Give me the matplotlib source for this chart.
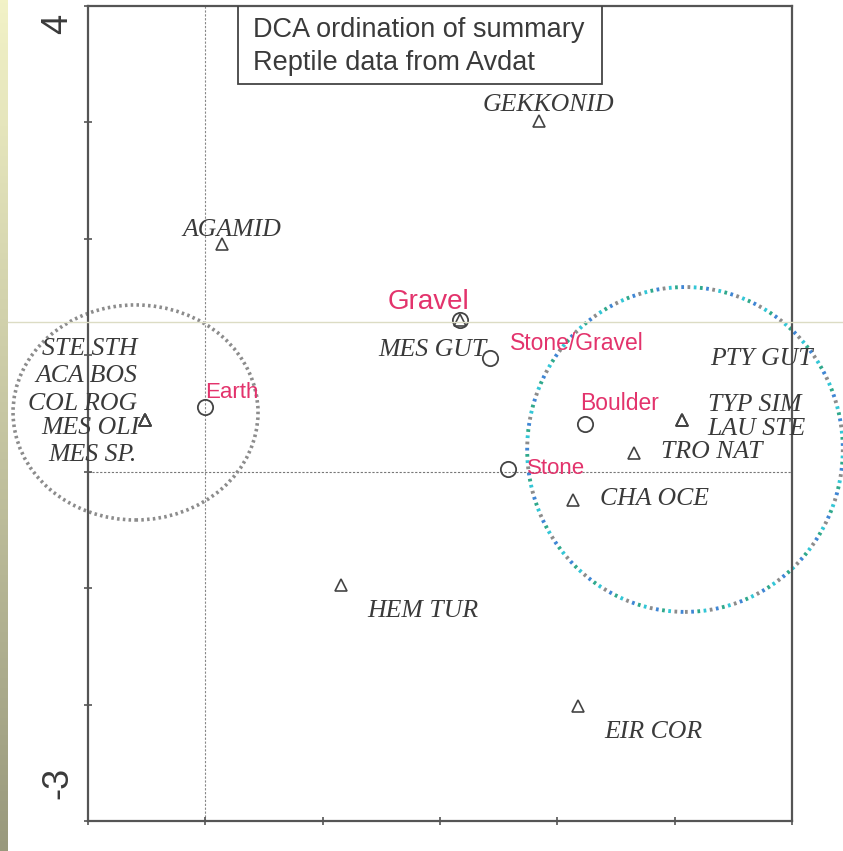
import numpy as np
import matplotlib
matplotlib.use("Agg")
import matplotlib.pyplot as plt
from matplotlib.patches import Ellipse, Rectangle
from matplotlib.lines import Line2D

# species scores (triangles)
species = ["GEKKONID", "AGAMID", "MES GUT",
           "STE STH", "ACA BOS", "COL ROG", "MES OLI", "MES SP.",
           "PTY GUT", "TYP SIM", "LAU STE",
           "TRO NAT", "CHA OCE", "HEM TUR", "EIR COR"]
species_x = [2.84, 0.14, 2.17,
             -0.51, -0.51, -0.51, -0.51, -0.51,
             4.06, 4.06, 4.06,
             3.65, 3.13, 1.16, 3.18]
species_y = [3.01, 1.96, 1.30,
             0.44, 0.44, 0.44, 0.44, 0.44,
             0.44, 0.44, 0.44,
             0.16, -0.24, -0.97, -2.01]

# substrate scores (circles)
sites = ["Gravel", "Stone/Gravel", "Earth", "Boulder", "Stone"]
sites_x = [2.17, 2.43, 0.00, 3.24, 2.58]
sites_y = [1.30, 0.98, 0.56, 0.41, 0.02]

# label placement, offsets in pixels from the point
species_off = {
    "GEKKONID": (10, 16, "center"), "AGAMID": (10, 14, "center"),
    "MES GUT": (27, -30, "right"),
    "STE STH": (-8, 71, "right"), "ACA BOS": (-8, 44, "right"),
    "COL ROG": (-8, 16, "right"), "MES OLI": (-6, -8, "right"),
    "MES SP.": (-9, -35, "right"),
    "PTY GUT": (28, 61, "left"), "TYP SIM": (26, 15, "left"),
    "LAU STE": (26, -9, "left"),
    "TRO NAT": (27, 1, "left"), "CHA OCE": (27, 1, "left"),
    "HEM TUR": (26, -26, "left"), "EIR COR": (26, -26, "left"),
}
sites_off = {
    "Gravel": (-72, 18, 20), "Stone/Gravel": (20, 14, 16.5),
    "Earth": (0, 14, 16), "Boulder": (-5, 20, 16.5), "Stone": (19, 1, 16),
}

ink = "#3a3a3a"
pink = "#e3336c"

fig = plt.figure(figsize=(8.43, 8.51), dpi=100)
fig.patch.set_facecolor("white")

# slide edge gradient on the left
strip = fig.add_axes([0, 0, 8 / 843, 1])
grad = np.linspace(0, 1, 256)[:, None]
top_c = np.array([0.95, 0.95, 0.78])
bot_c = np.array([0.60, 0.60, 0.49])
img = (1 - grad)[..., None] * top_c + grad[..., None] * bot_c
strip.imshow(img, aspect="auto", extent=[0, 1, 0, 1])
strip.set_axis_off()

ax = fig.add_axes([88 / 843, 30 / 851, 704 / 843, 815 / 851])
ax.set_xlim(-1, 5)
ax.set_ylim(-3, 4)

for s in ax.spines.values():
    s.set_color("#555555")
    s.set_linewidth(1.6)
ax.set_xticks(np.arange(-1, 6))
ax.set_yticks(np.arange(-3, 5))
ax.tick_params(direction="inout", length=6, width=1.2, color="#555555",
               labelleft=False, labelbottom=False)

ax.text(-1.26, 3.85, "4", rotation=90, ha="center", va="center",
        fontsize=26, family="Liberation Sans", color=ink)
ax.text(-1.26, -2.67, "-3", rotation=90, ha="center", va="center",
        fontsize=26, family="Liberation Sans", color=ink)

ax.axvline(0, color="#888888", lw=0.8, ls=(0, (2, 1.5)), zorder=1)
ax.axhline(0, color="#777777", lw=0.8, ls=(0, (2, 1.5)), zorder=1)

# title box
ax.add_patch(Rectangle((0.278, 3.33), 3.103, 0.68, fill=False,
                       ec="#444444", lw=1.3, zorder=3))
ax.text(0.405, 3.79, "DCA ordination of summary", fontsize=19.5,
        family="Liberation Sans", color=ink, va="center")
ax.text(0.405, 3.51, "Reptile data from Avdat", fontsize=19.5,
        family="Liberation Sans", color=ink, va="center")

ax.plot(species_x, species_y, ls="none", marker="^", ms=9, mfc="none",
        mec="#444444", mew=1.2, zorder=4)
ax.plot(sites_x, sites_y, ls="none", marker="o", ms=11, mfc="none",
        mec="#444444", mew=1.3, zorder=4)

for name, x, y in zip(species, species_x, species_y):
    dx, dy, ha = species_off[name]
    ax.annotate(name, (x, y), xytext=(dx, dy), textcoords="offset pixels",
                ha=ha, va="center", fontsize=18.5, family="Liberation Serif",
                style="italic", color=ink, zorder=5)

for name, x, y in zip(sites, sites_x, sites_y):
    dx, dy, fs = sites_off[name]
    ax.annotate(name, (x, y), xytext=(dx, dy), textcoords="offset pixels",
                ha="left", va="center", fontsize=fs,
                family="Liberation Sans", color=pink, zorder=5)

# grouping ellipses
ax.add_patch(Ellipse((-0.595, 0.509), 2.088, 1.847, fill=False,
                     ec="#8c8c8c", lw=2.6, ls=(0, (0.7, 0.9)),
                     clip_on=False, zorder=2))
ring_cols = ["#8c8c8c", "#33c6d6", "#2fa88c", "#3f86d4"]
for i, c in enumerate(ring_cols):
    ax.add_patch(Ellipse((4.088, 0.191), 2.69, 2.79, fill=False,
                         ec=c, lw=2.8, ls=(i * 1.6, (0.7, 5.7)),
                         clip_on=False, zorder=2))

# faint slide guide line
fig.add_artist(Line2D([8 / 843, 1], [1 - 322 / 851] * 2,
                      transform=fig.transFigure, color="#dcdcc4", lw=1.0))

fig.savefig("out.png", dpi=100, facecolor="white")
